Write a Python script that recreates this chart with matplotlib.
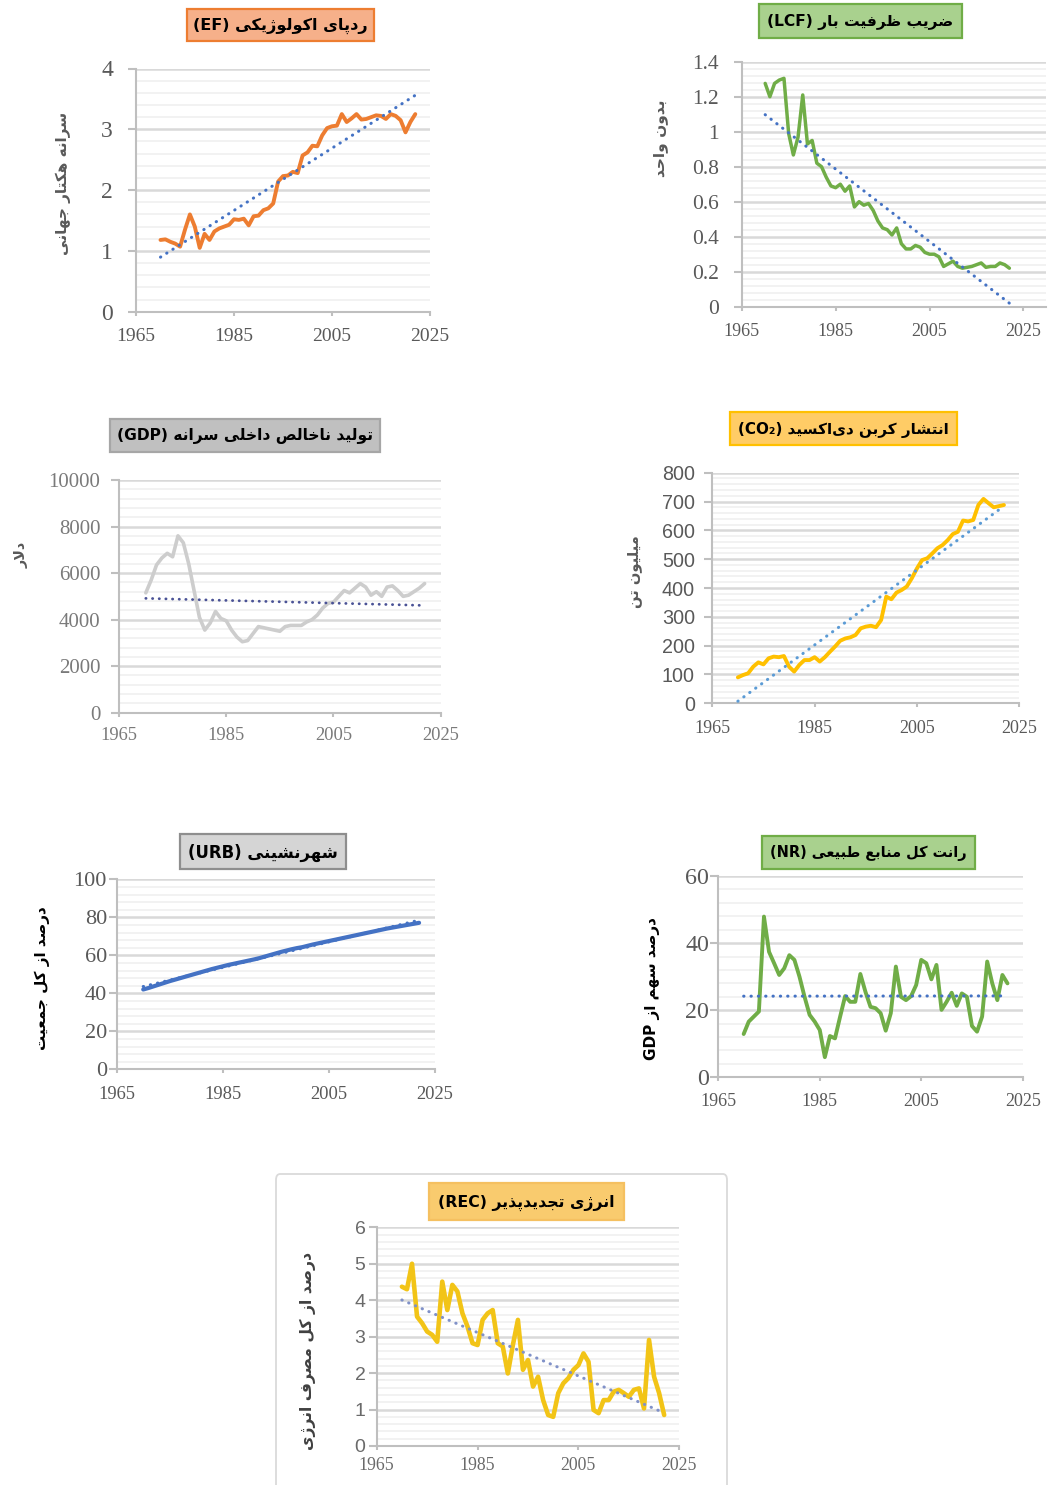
import numpy as np
import matplotlib
matplotlib.use("Agg")
import matplotlib.pyplot as plt
from matplotlib.patches import Rectangle, FancyBboxPatch
from matplotlib.ticker import MultipleLocator, FuncFormatter

W, H = 1048, 1485

# ---- data (1970-2022) ----
years = list(range(1970, 2023))

ef = [1.18, 1.19, 1.15, 1.12, 1.07, 1.35, 1.60, 1.40, 1.05, 1.28,
      1.18, 1.32, 1.37, 1.40, 1.43, 1.52, 1.51, 1.53, 1.42, 1.57,
      1.58, 1.67, 1.70, 1.78, 2.14, 2.23, 2.24, 2.30, 2.28, 2.57,
      2.62, 2.73, 2.72, 2.90, 3.02, 3.05, 3.06, 3.25, 3.12, 3.18,
      3.25, 3.16, 3.17, 3.20, 3.23, 3.22, 3.17, 3.25, 3.22, 3.15,
      2.95, 3.12, 3.25]

lcf = [1.276, 1.20, 1.276, 1.295, 1.305, 0.99, 0.867, 0.97, 1.21, 0.93,
       0.95, 0.82, 0.80, 0.74, 0.69, 0.68, 0.70, 0.66, 0.69, 0.57,
       0.60, 0.58, 0.59, 0.55, 0.49, 0.45, 0.44, 0.41, 0.45, 0.36,
       0.33, 0.33, 0.35, 0.34, 0.31, 0.30, 0.30, 0.285, 0.23, 0.245,
       0.26, 0.23, 0.22, 0.225, 0.23, 0.24, 0.25, 0.225, 0.23, 0.23,
       0.25, 0.24, 0.22]

gdp = [5150, 5700, 6350, 6650, 6850, 6700, 7600, 7300, 6400, 5250,
       4100, 3550, 3850, 4350, 4050, 3950, 3550, 3250, 3050, 3100,
       3400, 3700, 3650, 3600, 3550, 3500, 3700, 3750, 3750, 3750,
       3900, 4000, 4200, 4500, 4700, 4750, 5000, 5250, 5150, 5350,
       5550, 5400, 5050, 5200, 5000, 5400, 5450, 5250, 5000, 5050,
       5200, 5350, 5550]

co2 = [90, 98, 104, 127, 142, 135, 156, 162, 160, 164,
       127, 110, 133, 150, 150, 160, 145, 160, 179, 197,
       217, 225, 229, 237, 260, 266, 269, 264, 289, 370,
       361, 384, 393, 405, 434, 468, 497, 503, 520, 538,
       549, 566, 587, 595, 634, 631, 636, 688, 709, 694,
       680, 684, 688]

urb = [42.0, 42.8, 43.7, 44.6, 45.5, 46.4, 47.2, 48.0, 48.8, 49.6,
       50.4, 51.2, 52.0, 52.8, 53.5, 54.2, 54.9, 55.5, 56.1, 56.7,
       57.3, 57.9, 58.6, 59.4, 60.2, 61.0, 61.8, 62.5, 63.2, 63.8,
       64.3, 65.0, 65.7, 66.3, 66.9, 67.5, 68.1, 68.7, 69.3, 69.9,
       70.5, 71.1, 71.7, 72.3, 72.9, 73.5, 74.1, 74.6, 75.1, 75.6,
       76.1, 76.6, 77.1]

nr = [12.9, 16.6, 18.1, 19.6, 47.9, 37.4, 34.0, 30.5, 32.5, 36.4,
      35.0, 30.0, 24.0, 18.6, 16.6, 14.1, 6.0, 12.3, 11.6, 18.0,
      24.2, 22.5, 22.5, 30.8, 25.5, 21.0, 20.6, 19.1, 13.9, 19.1,
      33.0, 24.0, 23.0, 24.2, 27.5, 35.0, 34.0, 29.2, 33.5, 20.1,
      22.5, 25.2, 21.3, 25.0, 24.0, 15.3, 13.6, 18.1, 34.5, 28.0,
      23.0, 30.5, 28.0]

rec = [4.37, 4.30, 5.00, 3.55, 3.37, 3.14, 3.05, 2.86, 4.51, 3.73,
       4.42, 4.24, 3.64, 3.28, 2.82, 2.77, 3.46, 3.64, 3.73, 2.82,
       2.73, 1.99, 2.77, 3.46, 2.09, 2.36, 1.63, 1.90, 1.26, 0.85,
       0.80, 1.45, 1.72, 1.86, 2.09, 2.22, 2.54, 2.31, 0.99, 0.90,
       1.26, 1.26, 1.49, 1.54, 1.45, 1.35, 1.54, 1.58, 1.03, 2.91,
       1.90, 1.45, 0.85]

xticks = [1965, 1985, 2005, 2025]

# ---- minimal Persian shaping (matplotlib has no bidi / joining) ----
FORMS = {
    'ا': ('\uFE8D', '\uFE8E', None, None),
    'آ': ('\uFE81', '\uFE82', None, None),
    'ب': ('\uFE8F', '\uFE90', '\uFE91', '\uFE92'),
    'پ': ('\uFB56', '\uFB57', '\uFB58', '\uFB59'),
    'ت': ('\uFE95', '\uFE96', '\uFE97', '\uFE98'),
    'ج': ('\uFE9D', '\uFE9E', '\uFE9F', '\uFEA0'),
    'ح': ('\uFEA1', '\uFEA2', '\uFEA3', '\uFEA4'),
    'خ': ('\uFEA5', '\uFEA6', '\uFEA7', '\uFEA8'),
    'د': ('\uFEA9', '\uFEAA', None, None),
    'ذ': ('\uFEAB', '\uFEAC', None, None),
    'ر': ('\uFEAD', '\uFEAE', None, None),
    'ز': ('\uFEAF', '\uFEB0', None, None),
    'ژ': ('\uFB8A', '\uFB8B', None, None),
    'س': ('\uFEB1', '\uFEB2', '\uFEB3', '\uFEB4'),
    'ش': ('\uFEB5', '\uFEB6', '\uFEB7', '\uFEB8'),
    'ص': ('\uFEB9', '\uFEBA', '\uFEBB', '\uFEBC'),
    'ض': ('\uFEBD', '\uFEBE', '\uFEBF', '\uFEC0'),
    'ط': ('\uFEC1', '\uFEC2', '\uFEC3', '\uFEC4'),
    'ظ': ('\uFEC5', '\uFEC6', '\uFEC7', '\uFEC8'),
    'ع': ('\uFEC9', '\uFECA', '\uFECB', '\uFECC'),
    'ف': ('\uFED1', '\uFED2', '\uFED3', '\uFED4'),
    'ق': ('\uFED5', '\uFED6', '\uFED7', '\uFED8'),
    'ک': ('\uFB8E', '\uFB8F', '\uFB90', '\uFB91'),
    'گ': ('\uFB92', '\uFB93', '\uFB94', '\uFB95'),
    'ل': ('\uFEDD', '\uFEDE', '\uFEDF', '\uFEE0'),
    'م': ('\uFEE1', '\uFEE2', '\uFEE3', '\uFEE4'),
    'ن': ('\uFEE5', '\uFEE6', '\uFEE7', '\uFEE8'),
    'و': ('\uFEED', '\uFEEE', None, None),
    'ه': ('\uFEE9', '\uFEEA', '\uFEEB', '\uFEEC'),
    'ی': ('\uFBFC', '\uFBFD', '\uFBFE', '\uFBFF'),
}


def dual(c):
    return c in FORMS and FORMS[c][2] is not None


def fa(text):
    out = []
    i, n = 0, len(text)
    while i < n:
        c = text[i]
        if c not in FORMS:
            if c != '\u200c':
                out.append(c)
            i += 1
            continue
        before = i > 0 and dual(text[i - 1])
        if c == 'ل' and i + 1 < n and text[i + 1] == 'ا':
            out.append('\uFEFC' if before else '\uFEFB')
            i += 2
            continue
        after = dual(c) and i + 1 < n and text[i + 1] in FORMS
        iso, fin, ini, med = FORMS[c]
        out.append(med if before and after else fin if before else ini if after else iso)
        i += 1
    return ''.join(out)[::-1]


PFONT = ['DejaVu Sans']

fig = plt.figure(figsize=(W / 100, H / 100), dpi=100)
renderer = fig.canvas.get_renderer()


def px(x, y):
    return x / W, 1 - y / H


def fit_text(x, y, s, target, rotation=0, **kw):
    t = fig.text(*px(x, y), s, fontsize=12, rotation=rotation,
                 ha='center', va='center', **kw)
    bb = t.get_window_extent(renderer)
    size = bb.height if rotation else bb.width
    t.set_fontsize(12 * target / size)
    return t


def title_box(x0, y0, x1, y1, fc, ec, s, target):
    fig.add_artist(Rectangle(px(x0, y1), (x1 - x0) / W, (y1 - y0) / H,
                             transform=fig.transFigure, fc=fc, ec=ec, lw=1.6))
    fit_text((x0 + x1) / 2, (y0 + y1) / 2 + 1, s, target, family=PFONT,
             fontweight='bold', color='black')


def panel(box, values, color, lw, ymax, ystep, yminor, tcolor, xmax=2025,
          yfont='Liberation Serif', ysize=15, xsize=13.5, ypad=10, xpad=9,
          tick_color='#595959', tlw=2.2):
    x0, y0, x1, y1 = box
    ax = fig.add_axes([x0 / W, 1 - y1 / H, (x1 - x0) / W, (y1 - y0) / H])
    ax.set_xlim(1965, xmax)
    ax.set_ylim(0, ymax)
    ax.set_xticks(xticks)
    ax.yaxis.set_major_locator(MultipleLocator(ystep))
    ax.yaxis.set_minor_locator(MultipleLocator(yminor))
    ax.yaxis.set_major_formatter(FuncFormatter(lambda v, p: f"{round(v, 2):g}"))
    ax.grid(which='major', axis='y', color='#d9d9d9', lw=1.8)
    ax.grid(which='minor', axis='y', color='#efefef', lw=1.1)
    ax.set_axisbelow(True)
    for s in ('top', 'right'):
        ax.spines[s].set_visible(False)
    for s in ('left', 'bottom'):
        ax.spines[s].set_color('#bfbfbf')
        ax.spines[s].set_linewidth(1.5)
    ax.tick_params(axis='y', which='major', length=5.5, width=1.5, color='#bfbfbf',
                   labelsize=ysize, labelcolor=tick_color, pad=ypad)
    ax.tick_params(axis='y', which='minor', length=0)
    ax.tick_params(axis='x', length=3, width=1.5, color='#bfbfbf',
                   labelsize=xsize, labelcolor=tick_color, pad=xpad)
    for lab in ax.get_yticklabels():
        lab.set_family(yfont)
    for lab in ax.get_xticklabels():
        lab.set_family('Liberation Serif')
    ax.plot(years, values, color=color, lw=lw, solid_joinstyle='round',
            solid_capstyle='round', zorder=3)
    k, b = np.polyfit(years, values, 1)
    ends = np.array([years[0], years[-1]])
    ax.plot(ends, k * ends + b, color=tcolor, lw=tlw, ls=(0, (0.1, 2.3)),
            dash_capstyle='round', zorder=4)
    return ax


# ---- panels ----
panel((136, 68.5, 430, 311.7), ef, '#ED7D31', 2.8, 4, 1, 0.2, '#4472C4',
      ysize=17, xsize=14, ypad=11, xpad=9)
panel((741.7, 61.7, 1046, 306.7), lcf, '#70AD47', 2.5, 1.4, 0.2, 0.04, '#4472C4',
      xmax=2029.8, ysize=15.5, xsize=13, ypad=11, xpad=9)
panel((119, 480, 440.7, 712.7), gdp, '#cdcdcd', 2.6, 10000, 2000, 400, '#4a5296',
      ysize=15, xsize=13.3, ypad=8, xpad=7, tick_color='#7a7a7a', tlw=2.0)
panel((712.3, 472.7, 1019.3, 703.3), co2, '#FFC000', 2.8, 800, 100, 20, '#5B9BD5',
      yfont='Liberation Sans', ysize=14.2, xsize=13, ypad=7, xpad=9)
panel((116.7, 879.3, 435, 1069.3), urb, '#4472C4', 3.0, 100, 20, 4, '#4472C4',
      ysize=16, xsize=13.3, ypad=1.5, xpad=9)
panel((718.3, 876, 1022.7, 1077.3), nr, '#70AD47', 2.8, 60, 20, 4, '#4472C4',
      ysize=17.3, xsize=13, ypad=1.0, xpad=8.5)
panel((376.7, 1227.3, 679.3, 1446), rec, '#F2C417', 3.3, 6, 1, 0.2, '#8091c8',
      yfont='Liberation Sans', ysize=14, xsize=12.8, ypad=2.5, xpad=5,
      tick_color='#6a6a6a')

# frame around the last chart
fig.add_artist(FancyBboxPatch(px(276, 1500), (727 - 276) / W, (1500 - 1174) / H,
                              boxstyle='round,pad=0,rounding_size=0.004',
                              transform=fig.transFigure, fc='none', ec='#dadada', lw=1.3))

# ---- titles ----
title_box(187, 9, 374, 41, '#F6B08A', '#ED7D31', '(EF) ' + fa('ردپای اکولوژیکی'), 174)
title_box(759, 4, 961.5, 38, '#A9D18E', '#70AD47', '(LCF) ' + fa('ضریب ظرفیت بار'), 186)
title_box(110, 419, 380, 451.5, '#C0C0C0', '#A6A6A6', '(GDP) ' + fa('تولید ناخالص داخلی سرانه'), 256)
title_box(730, 412, 956.5, 445, '#FFCC66', '#FFC000', '(CO\u2082) ' + fa('انتشار کربن دی\u200cاکسید'), 210)
title_box(180, 834, 346, 869, '#D5D5D5', '#8E8E8E', '(URB) ' + fa('شهرنشینی'), 150)
title_box(761.5, 836, 975, 868.5, '#A9D18E', '#70AD47', '(NR) ' + fa('رانت کل منابع طبیعی'), 196)
title_box(429, 1183, 624, 1220, '#F9CB6E', '#F5C060', '(REC) ' + fa('انرژی تجدیدپذیر'), 176)

# ---- y labels ----
fit_text(63, 183.5, fa('سرانه هکتار جهانی'), 143, rotation=90,
         family=PFONT, fontweight='bold', color='#595959')
fit_text(660, 138.5, fa('بدون واحد'), 77, rotation=90,
         family=PFONT, fontweight='bold', color='#595959')
fit_text(22, 555, fa('دلار'), 26, rotation=90,
         family=PFONT, fontweight='bold', color='#595959')
fit_text(635, 571.5, fa('میلیون تن'), 73, rotation=90,
         family=PFONT, fontweight='bold', color='#595959')
fit_text(42.7, 978.5, fa('درصد از کل جمعیت'), 143, rotation=90,
         family=PFONT, fontweight='bold', color='black')
fit_text(651.7, 988.5, 'GDP ' + fa('درصد سهم از'), 143, rotation=90,
         family=PFONT, fontweight='bold', color='black')
fit_text(308, 1351, fa('درصد از کل مصرف انرژی'), 198, rotation=90,
         family=PFONT, fontweight='bold', color='#404040')

fig.savefig("out.png", dpi=100)
